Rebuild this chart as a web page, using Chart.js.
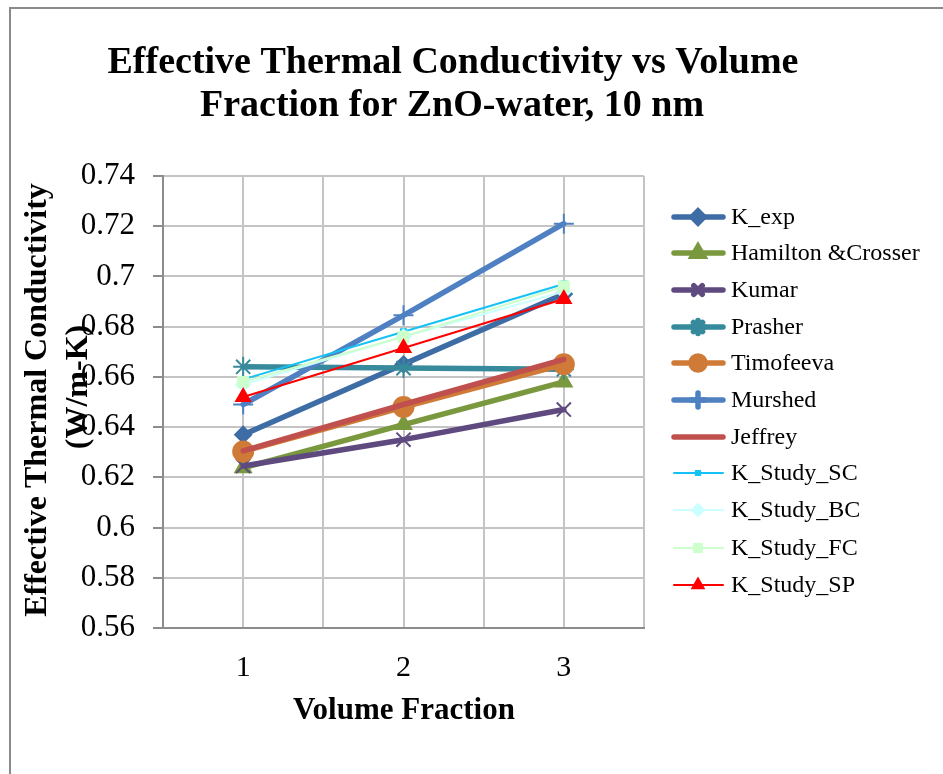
<!DOCTYPE html>
<html>
<head>
<meta charset="utf-8">
<script src="https://cdn.jsdelivr.net/npm/chart.js@4"></script>
<style>
  html, body { margin: 0; padding: 0; background: #fff; overflow: hidden; }
  #wrap { position: relative; width: 943px; height: 774px; }
  #frame { position: absolute; left: 9px; top: 7px; width: 1000px; height: 1000px; border: 2px solid #8a8a8a; box-sizing: border-box; }
  #chart { position: absolute; left: 0; top: 0; }
</style>
</head>
<body>
<div id="wrap">
  <div id="frame"></div>
  <canvas id="chart" width="943" height="774"></canvas>
</div>
<script>
const categories = [1, 2, 3];
const yTicks = [0.56, 0.58, 0.6, 0.62, 0.64, 0.66, 0.68, 0.7, 0.72, 0.74];

const kExp = [0.637, 0.665, 0.693];
const hamilton = [0.6238, 0.641, 0.658];
const kumar = [0.6245, 0.635, 0.647];
const prasher = [0.664, 0.6635, 0.663];
const timofeeva = [0.6303, 0.648, 0.665];
const murshed = [0.649, 0.6845, 0.721];
const jeffrey = [0.6305, 0.649, 0.667];
const studySC = [0.659, 0.678, 0.697];
const studyBC = [0.657, 0.676, 0.694];
const studyFC = [0.658, 0.676, 0.696];
const studySP = [0.652, 0.6715, 0.691];

const serif = "'Liberation Serif', 'Times New Roman', serif";

function series(label, values, color, width, style, radius, legendRadius) {
  return {
    label,
    data: categories.map((c, i) => ({ x: c, y: values[i] })),
    borderColor: color,
    borderWidth: width,
    borderCapStyle: 'round',
    borderJoinStyle: 'round',
    pointStyle: style,
    pointRadius: style ? radius : 0,
    pointBackgroundColor: color,
    pointBorderColor: color,
    pointBorderWidth: 2,
    legendRadius,
    tension: 0
  };
}

const datasets = [
  series('K_exp', kExp, '#3e6ca4', 5.5, 'rectRot', 8, 6),
  series('Hamilton &Crosser', hamilton, '#7a983e', 5.5, 'triangle', 9, 6.5),
  series('Kumar', kumar, '#5f4a80', 5.5, 'crossRot', 10, 6),
  series('Prasher', prasher, '#378a9c', 5.5, 'star', 10, 6.5),
  series('Timofeeva', timofeeva, '#cf7b37', 5.5, 'circle', 10, 7),
  series('Murshed', murshed, '#4f81c2', 5.5, 'cross', 10, 7),
  series('Jeffrey', jeffrey, '#c0504d', 5.5, false, 0, 0),
  series('K_Study_SC', studySC, '#14c2f5', 2, 'rect', 3.5, 3),
  series('K_Study_BC', studyBC, '#ccffff', 2, 'rectRot', 7, 6),
  series('K_Study_FC', studyFC, '#ccffcc', 2, 'rect', 7, 5.5),
  series('K_Study_SP', studySP, '#ff0000', 2, 'triangle', 8, 6.5)
];
// later series sit on top of earlier ones
datasets.forEach((d, i) => { d.order = datasets.length - i; });

const legendRows = [217, 253, 290, 327, 363, 400, 437, 473, 510, 548, 585];

const textPlugin = {
  id: 'texts',
  afterDraw(chart) {
    const ctx = chart.ctx;
    ctx.save();
    ctx.fillStyle = '#000';
    ctx.textAlign = 'center';
    ctx.textBaseline = 'middle';

    ctx.font = 'bold 38px ' + serif;
    ctx.fillText('Effective Thermal Conductivity vs Volume', 453, 63);
    ctx.fillText('Fraction for ZnO-water, 10 nm', 452, 106);

    ctx.font = 'bold 31px ' + serif;
    ctx.fillText('Volume Fraction', 404, 711);

    ctx.save();
    ctx.translate(38, 400);
    ctx.rotate(-Math.PI / 2);
    ctx.font = 'bold 32px ' + serif;
    ctx.fillText('Effective Thermal Conductivity', 0, 0);
    ctx.fillText('(W/m-K)', 13, 41);
    ctx.restore();

    // legend: line sample with marker, then the label
    ctx.font = '24px ' + serif;
    ctx.textAlign = 'left';
    datasets.forEach((d, i) => {
      const y = legendRows[i];
      ctx.strokeStyle = d.borderColor;
      ctx.lineWidth = d.borderWidth;
      ctx.lineCap = 'round';
      ctx.beginPath();
      ctx.moveTo(674, y);
      ctx.lineTo(723, y);
      ctx.stroke();
      if (d.pointStyle) {
        ctx.fillStyle = d.pointBackgroundColor;
        ctx.strokeStyle = d.pointBorderColor;
        Chart.helpers.drawPoint(ctx, {
          pointStyle: d.pointStyle,
          radius: d.legendRadius,
          borderWidth: 1.5,
          rotation: 0
        }, 698, y);
      }
      ctx.fillStyle = '#000';
      ctx.fillText(d.label, 731, y + 1);
    });
    ctx.restore();
  }
};

new Chart(document.getElementById('chart'), {
  type: 'line',
  data: { datasets },
  options: {
    responsive: false,
    animation: false,
    layout: { padding: { top: 176, right: 299, bottom: 0, left: 0 } },
    plugins: { legend: { display: false }, tooltip: { enabled: false } },
    scales: {
      x: {
        type: 'linear',
        min: 0.5,
        max: 3.5,
        grid: { color: '#c4c4c4', lineWidth: 2, drawTicks: false },
        border: { color: '#8c8c8c', width: 2 },
        ticks: {
          stepSize: 0.5,
          padding: 22,
          color: '#000',
          font: { family: serif, size: 30 },
          callback: v => categories.includes(v) ? String(v) : ''
        },
        afterFit: s => { s.height = 146; }
      },
      y: {
        min: yTicks[0],
        max: yTicks[yTicks.length - 1],
        afterBuildTicks: s => { s.ticks = yTicks.map(v => ({ value: v })); },
        grid: { color: '#c4c4c4', lineWidth: 2, tickLength: 10, tickColor: '#8c8c8c' },
        border: { color: '#8c8c8c', width: 2 },
        ticks: {
          padding: 18,
          color: '#000',
          font: { family: serif, size: 31 },
          callback: v => String(+v.toFixed(2))
        },
        afterFit: s => { s.width = 163; }
      }
    }
  },
  plugins: [textPlugin]
});
</script>
</body>
</html>
